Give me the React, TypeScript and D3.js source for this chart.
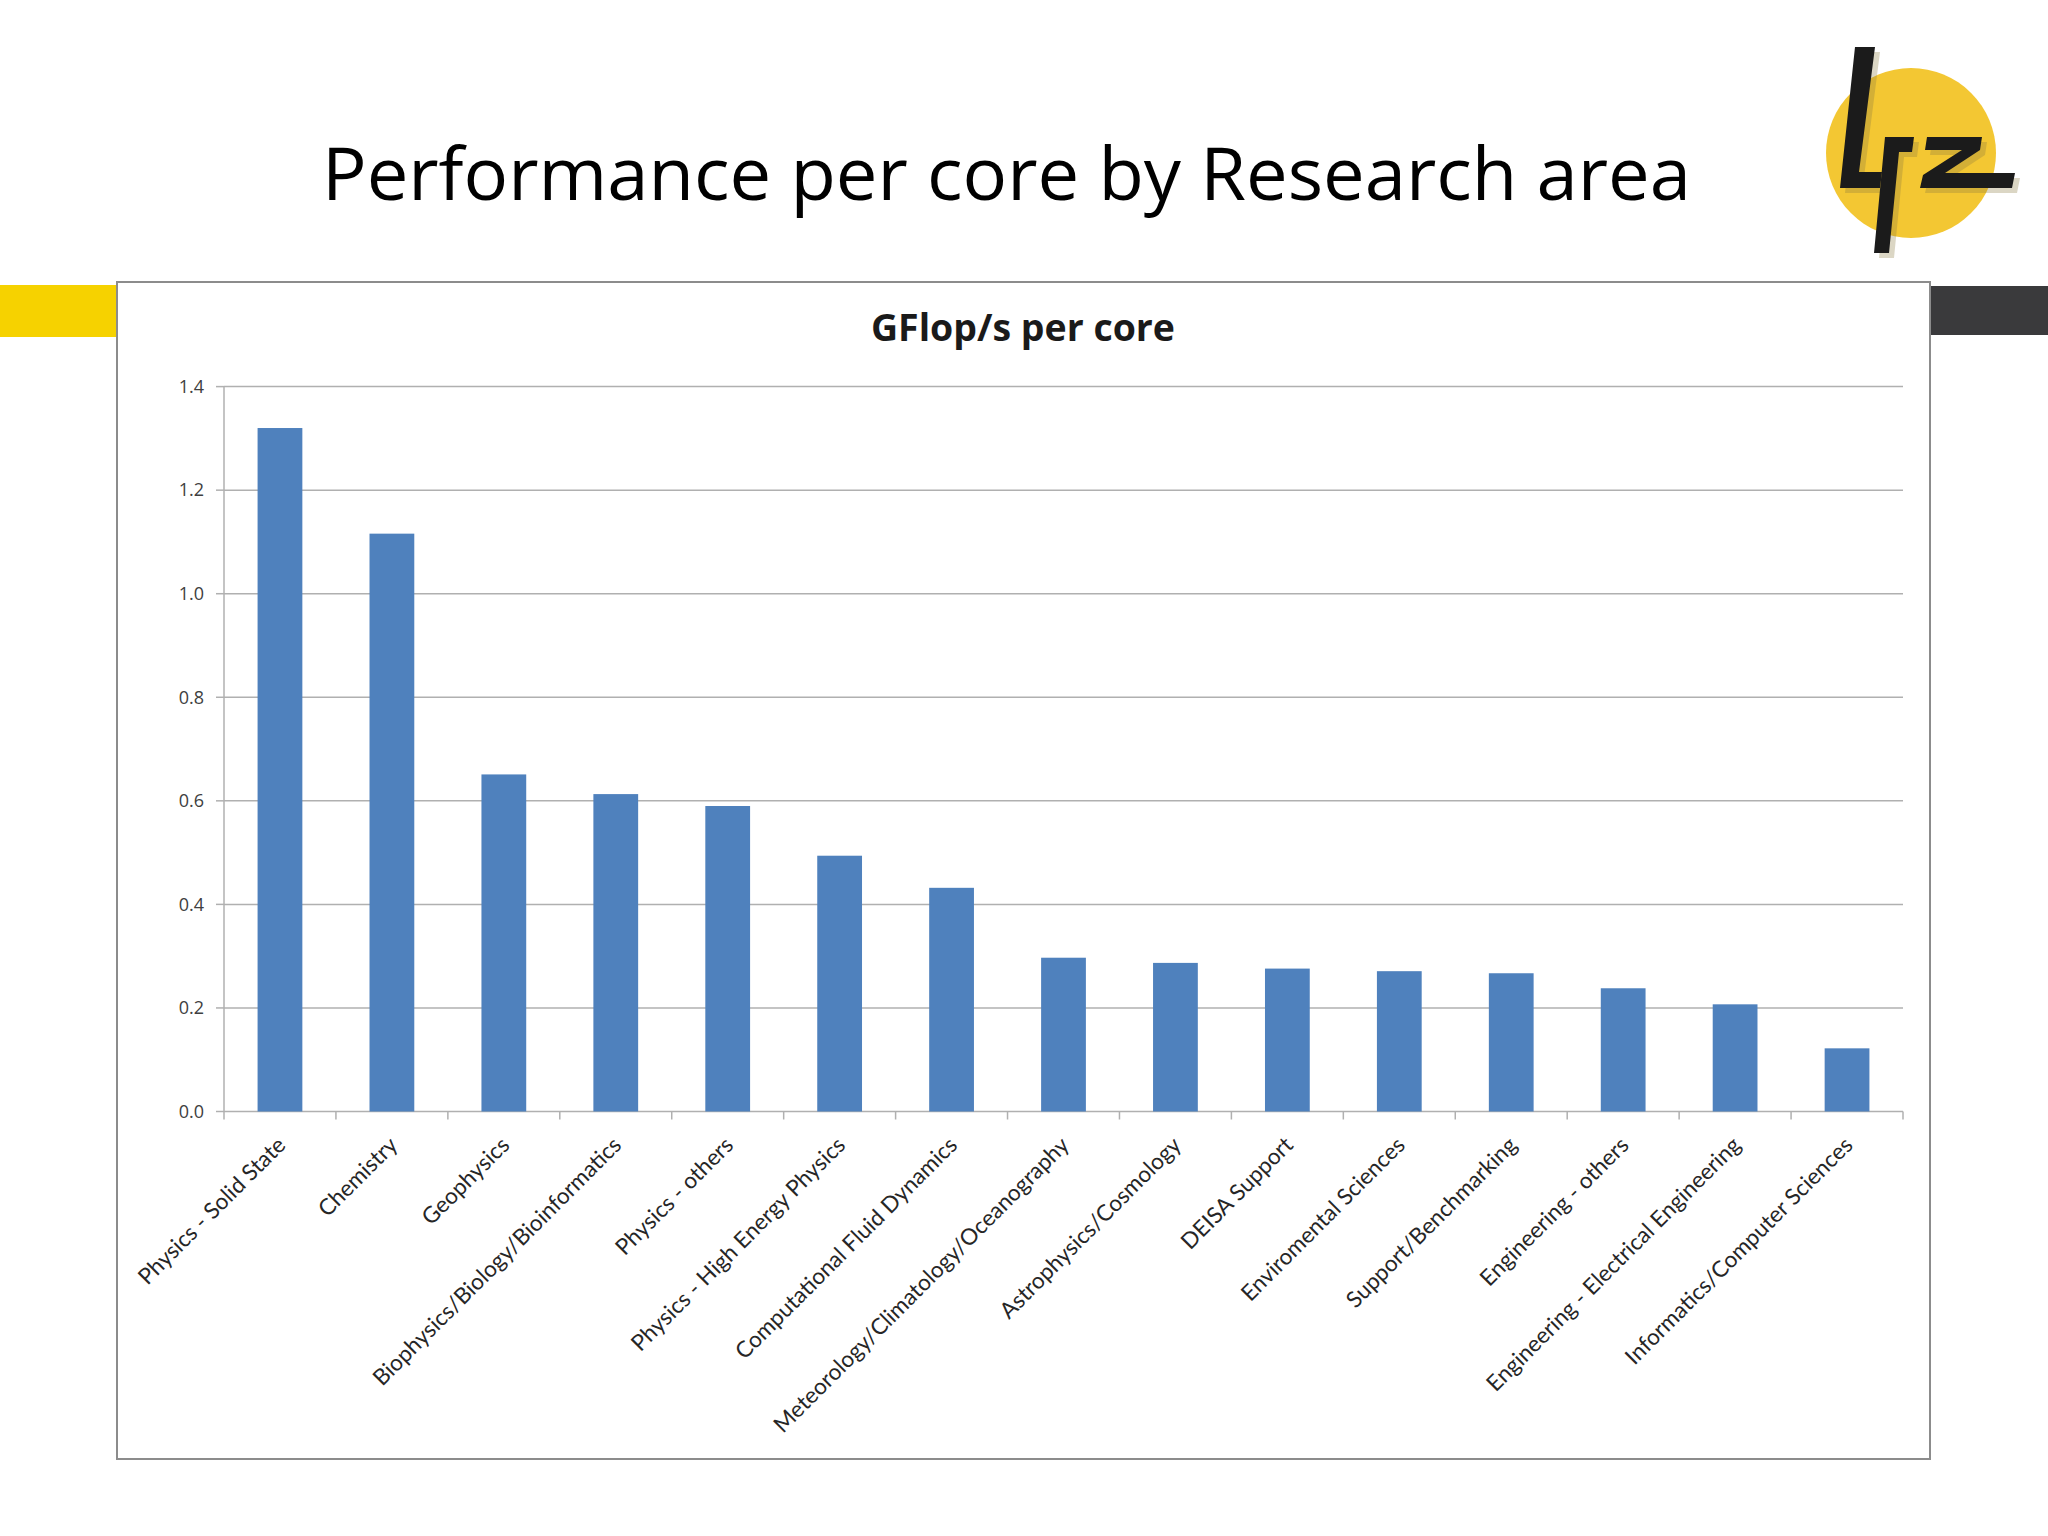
import React from "react";
import * as d3 from "d3";

const categories = [
  "Physics - Solid State",
  "Chemistry",
  "Geophysics",
  "Biophysics/Biology/Bioinformatics",
  "Physics - others",
  "Physics - High Energy Physics",
  "Computational Fluid Dynamics",
  "Meteorology/Climatology/Oceanography",
  "Astrophysics/Cosmology",
  "DEISA Support",
  "Enviromental Sciences",
  "Support/Benchmarking",
  "Engineering - others",
  "Engineering - Electrical Engineering",
  "Informatics/Computer Sciences",
];
const values = [1.32, 1.116, 0.651, 0.613, 0.59, 0.494, 0.432, 0.297, 0.287, 0.276, 0.271, 0.267, 0.238, 0.207, 0.122];
const yTicks = [0, 0.2, 0.4, 0.6, 0.8, 1.0, 1.2, 1.4];
const slideTitle = "Performance per core by Research area";
const chartTitle = "GFlop/s per core";

const W = 2048;
const H = 1536;
const plot = { left: 224, right: 1903, top: 386.6, bottom: 1111.5 };

export default function App() {
  const x = d3
    .scaleBand<string>()
    .domain(categories)
    .range([plot.left, plot.right])
    .paddingInner(0.6)
    .paddingOuter(0.3);
  const step = (plot.right - plot.left) / categories.length;
  const y = d3.scaleLinear().domain([0, 1.4]).range([plot.bottom, plot.top]);
  const gridColor = "#b0b0b0";
  const font = "'Open Sans', 'Noto Sans', sans-serif";
  const labelFont = "Lato, 'Open Sans', sans-serif";

  const lPts = "1855,47 1875,47 1859,172 1882,172 1880,188 1840,188";
  const rPts = "1885,137 1914,137 1912,152 1899,152 1889,253 1874,253";
  const zPts = "1927,137 1982,137 1980,150 1945,173 2015,173 2012,188 1920,188 1923,175 1962,150 1925,150";

  return (
    <svg
      width={W}
      height={H}
      viewBox={`0 0 ${W} ${H}`}
      style={{ position: "absolute", left: 0, top: 0, background: "#fff" }}
    >
      <rect x={0} y={0} width={W} height={H} fill="#ffffff" />
      {/* slide decorations */}
      <rect x={0} y={285} width={118} height={52} fill="#f6d200" />
      <rect x={1931} y={286} width={117} height={49} fill="#3a3a3c" />
      {/* logo */}
      <g>
        <circle cx={1911} cy={153} r={85} fill="#f3c733" />
        <g fill="#8a7a40" opacity={0.3} transform="translate(5,5)">
          <polygon points={lPts} />
          <polygon points={rPts} />
          <polygon points={zPts} />
        </g>
        <g fill="#1b1b1b">
          <polygon points={lPts} />
          <polygon points={rPts} />
          <polygon points={zPts} />
        </g>
      </g>
      {/* slide title */}
      <text
        x={322}
        y={200}
        fontFamily={font}
        fontSize={73}
        fill="#000"
        textLength={1369}
        lengthAdjust="spacingAndGlyphs"
      >
        {slideTitle}
      </text>
      {/* chart frame */}
      <rect x={117} y={282} width={1813} height={1177} fill="#ffffff" stroke="#8c8c8c" strokeWidth={2} />
      {/* chart title */}
      <text
        x={1023}
        y={341}
        textAnchor="middle"
        fontFamily={font}
        fontWeight="bold"
        fontSize={37}
        fill="#1a1a1a"
        textLength={304}
        lengthAdjust="spacingAndGlyphs"
      >
        {chartTitle}
      </text>
      {/* gridlines */}
      {yTicks.map((t) => (
        <g key={"g" + t}>
          <line x1={plot.left} x2={plot.right} y1={y(t)} y2={y(t)} stroke={gridColor} strokeWidth={1.5} />
          <line x1={plot.left - 8} x2={plot.left} y1={y(t)} y2={y(t)} stroke={gridColor} strokeWidth={1.5} />
          <text
            x={plot.left - 20}
            y={y(t)}
            dy="0.35em"
            textAnchor="end"
            fontFamily={font}
            fontSize={18}
            fill="#404040"
          >
            {d3.format(".1f")(t)}
          </text>
        </g>
      ))}
      {/* y axis line */}
      <line x1={plot.left} x2={plot.left} y1={plot.top} y2={plot.bottom} stroke={gridColor} strokeWidth={1.5} />
      {/* x tick marks */}
      {d3.range(categories.length + 1).map((i) => (
        <line
          key={"xt" + i}
          x1={plot.left + i * step}
          x2={plot.left + i * step}
          y1={plot.bottom}
          y2={plot.bottom + 8}
          stroke={gridColor}
          strokeWidth={1.5}
        />
      ))}
      {/* bars */}
      {categories.map((c, i) => (
        <rect
          key={"b" + c}
          x={x(c)}
          y={y(values[i])}
          width={x.bandwidth()}
          height={plot.bottom - y(values[i])}
          fill="#4f81bd"
        />
      ))}
      {/* x labels */}
      {categories.map((c) => {
        const cx = (x(c) as number) + x.bandwidth() / 2;
        const ax = cx + 7;
        const ay = plot.bottom + 35;
        return (
          <text
            key={"l" + c}
            x={ax}
            y={ay}
            transform={`rotate(-45 ${ax} ${ay})`}
            textAnchor="end"
            fontFamily={labelFont}
            fontSize={22.5}
            fill="#262626"
          >
            {c}
          </text>
        );
      })}
    </svg>
  );
}
